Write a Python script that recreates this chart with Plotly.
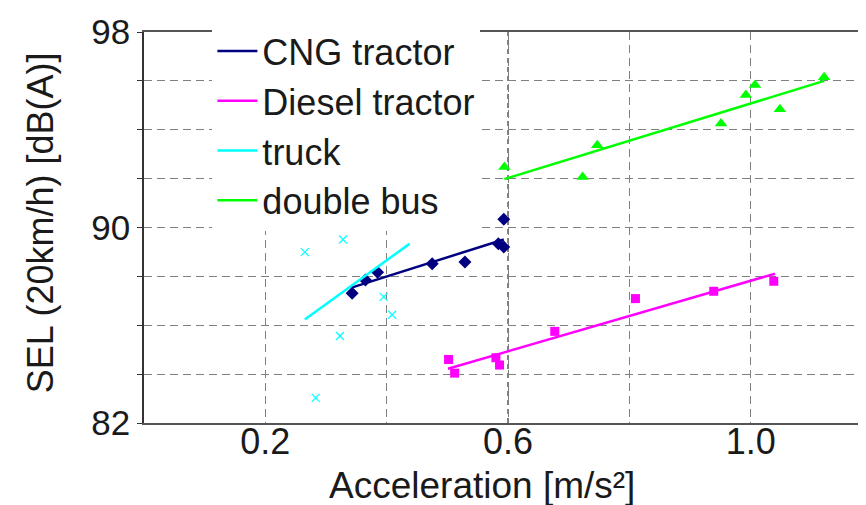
import plotly.graph_objects as go

# ---- data ----
cng_x = [0.343, 0.365, 0.385, 0.475, 0.529, 0.593, 0.584, 0.593]
cng_y = [87.31, 87.85, 88.17, 88.52, 88.59, 90.34, 89.34, 89.20]
cng_fit_x = [0.342, 0.593]
cng_fit_y = [87.54, 89.51]

diesel_x = [0.502, 0.512, 0.580, 0.586, 0.677, 0.810, 0.939, 1.038]
diesel_y = [84.60, 84.04, 84.67, 84.37, 85.75, 87.09, 87.39, 87.80]
diesel_fit_x = [0.501, 1.040]
diesel_fit_y = [84.22, 88.11]

truck_x = [0.265, 0.328, 0.395, 0.409, 0.323, 0.283]
truck_y = [88.99, 89.51, 87.16, 86.43, 85.56, 83.03]
truck_fit_x = [0.265, 0.4375]
truck_fit_y = [86.24, 89.33]

bus_x = [0.594, 0.723, 0.747, 0.951, 0.992, 1.007, 1.048, 1.121]
bus_y = [92.48, 92.07, 93.37, 94.26, 95.42, 95.83, 94.84, 96.15]
bus_fit_x = [0.594, 1.121]
bus_fit_y = [91.98, 96.00]

x_ticks = [0.2, 0.6, 1.0]
x_tick_text = ["0.2", "0.6", "1.0"]
y_ticks = [82, 90, 98]
x_title = "Acceleration [m/s²]"
y_title = "SEL (20km/h) [dB(A)]"

FONT = "Liberation Sans, Arial, sans-serif"
TXT = "#1a1a1a"
NAVY, MAG, CYAN, GREEN = "#000080", "#FF00FF", "#00FFFF", "#00FF00"

fig = go.Figure()

# scatter markers
fig.add_trace(go.Scatter(x=cng_x, y=cng_y, mode="markers", showlegend=False,
                         marker=dict(symbol="diamond", size=10, color=NAVY)))
fig.add_trace(go.Scatter(x=diesel_x, y=diesel_y, mode="markers", showlegend=False,
                         marker=dict(symbol="square", size=9, color=MAG)))
fig.add_trace(go.Scatter(x=truck_x, y=truck_y, mode="markers", showlegend=False,
                         marker=dict(symbol="x-thin", size=8, color=CYAN,
                                     line=dict(color=CYAN, width=1.2))))
fig.add_trace(go.Scatter(x=bus_x, y=bus_y, mode="markers", showlegend=False,
                         marker=dict(symbol="triangle-up", size=11, color=GREEN)))

# fit lines (legend entries)
fig.add_trace(go.Scatter(x=cng_fit_x, y=cng_fit_y, mode="lines", name="CNG tractor",
                         line=dict(color=NAVY, width=2.5)))
fig.add_trace(go.Scatter(x=diesel_fit_x, y=diesel_fit_y, mode="lines", name="Diesel tractor",
                         line=dict(color=MAG, width=2.5)))
fig.add_trace(go.Scatter(x=truck_fit_x, y=truck_fit_y, mode="lines", name="truck",
                         line=dict(color=CYAN, width=2.5)))
fig.add_trace(go.Scatter(x=bus_fit_x, y=bus_fit_y, mode="lines", name="double bus",
                         line=dict(color=GREEN, width=2.5)))

# black dashed line at 0.6
fig.add_shape(type="line", xref="x", yref="paper", x0=0.6, x1=0.6, y0=0, y1=1,
              line=dict(color="black", width=1, dash="5px,4px"), layer="below")

# axis titles as annotations (exact placement)
fig.add_annotation(text=x_title, xref="paper", yref="paper", x=0.468, y=-0.16,
                   xanchor="center", yanchor="middle", showarrow=False,
                   font=dict(size=37, color=TXT, family=FONT))
fig.add_annotation(text=y_title, xref="paper", yref="paper", x=-0.144, y=0.511,
                   xanchor="center", yanchor="middle", showarrow=False, textangle=-90,
                   font=dict(size=36, color=TXT, family=FONT))

grid = dict(showgrid=True, gridcolor="#808080", griddash="8px,5px", gridwidth=1)

# the page body adds an 8px offset, so the figure is sized to compensate
fig.update_layout(
    width=858, height=497,
    margin=dict(l=136, r=0, t=24, b=82),
    plot_bgcolor="white", paper_bgcolor="white",
    font=dict(family=FONT, size=35, color=TXT),
    legend=dict(x=0.0947, y=1.028, xanchor="left", yanchor="top",
                bgcolor="white", borderwidth=0, font=dict(size=36),
                itemwidth=40, tracegroupgap=0),
    xaxis=dict(range=[0, 1.19], tickvals=x_ticks, ticktext=x_tick_text,
               **grid,
               minor=dict(dtick=0.2, tick0=0, **grid),
               showline=True, linecolor="#555555", linewidth=1.5, mirror=True,
               ticks="", zeroline=False, automargin=False,
               ticklabelstandoff=-14,
               tickfont=dict(size=36)),
    yaxis=dict(range=[82, 98], tickvals=y_ticks,
               **grid,
               minor=dict(dtick=2, tick0=82, ticks="outside", ticklen=5,
                          tickcolor="#333333", **grid),
               ticks="outside", ticklen=5, tickcolor="#333333",
               showline=True, linecolor="#333333", linewidth=1.5, mirror=False,
               zeroline=False, automargin=False,
               tickfont=dict(size=35)),
)

fig.write_html("out.html")
